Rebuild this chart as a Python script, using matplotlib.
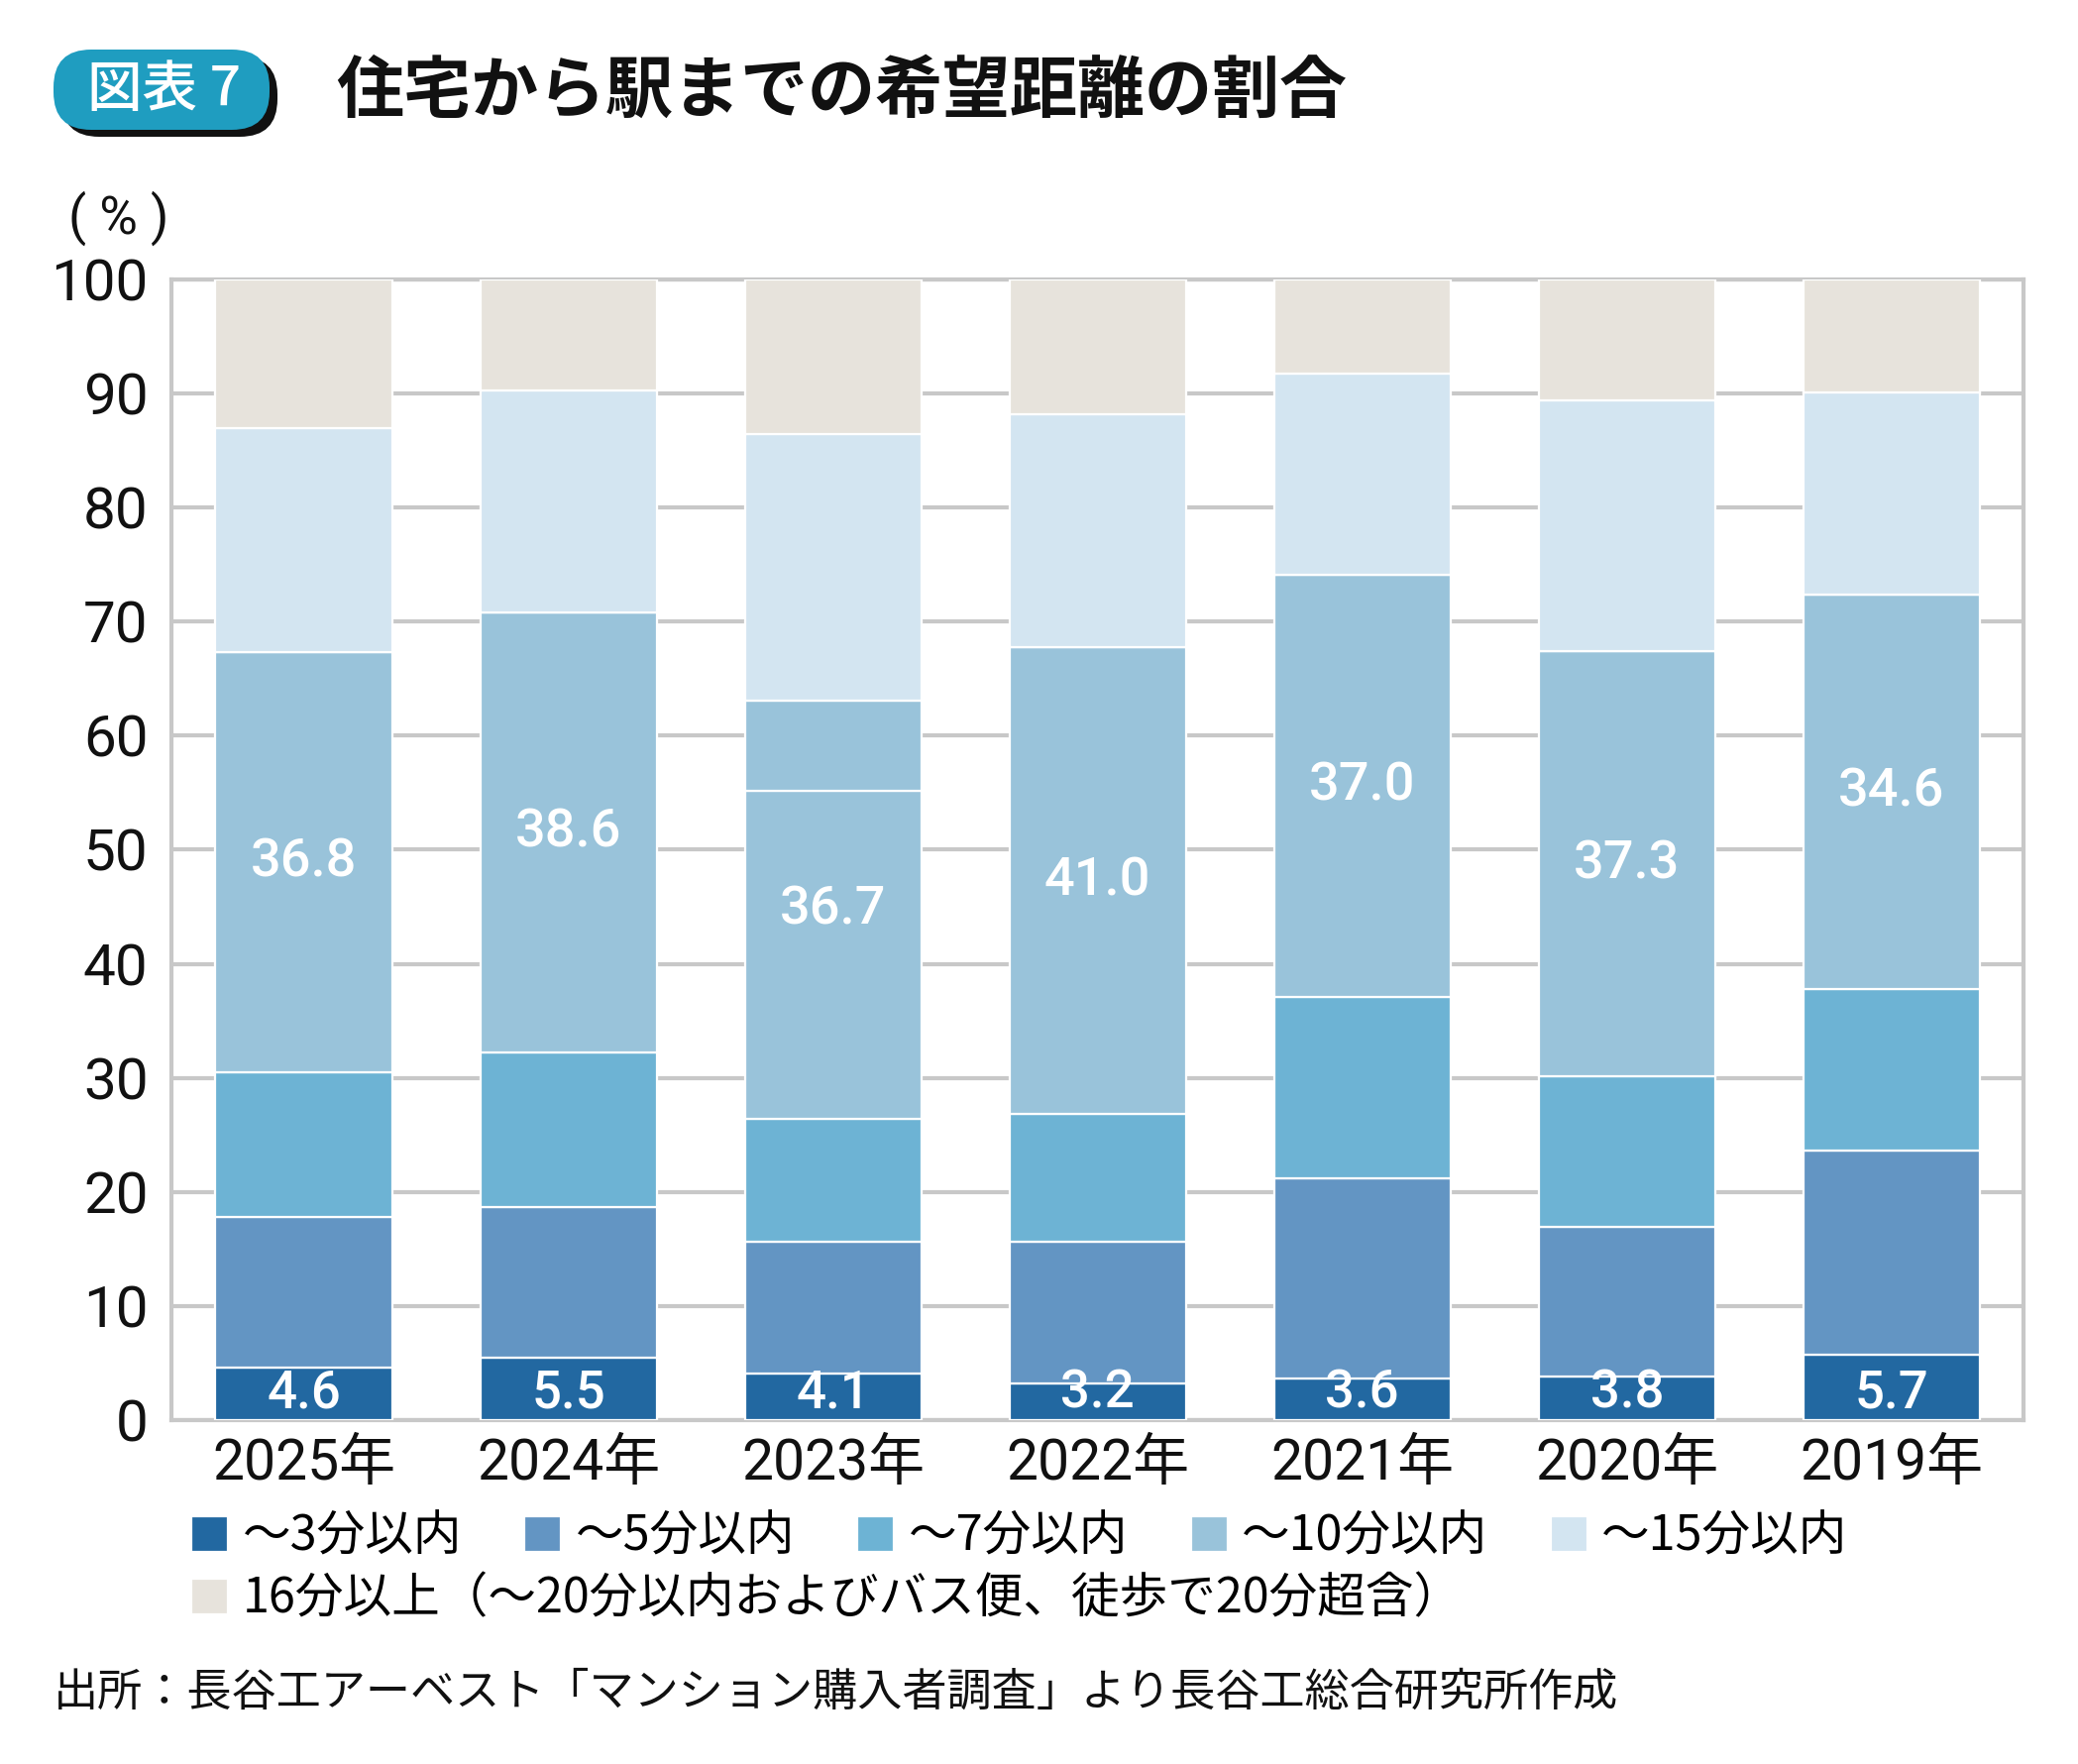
import matplotlib
matplotlib.use("Agg")
import matplotlib.pyplot as plt
from matplotlib.patches import FancyBboxPatch
import numpy as np

plt.rcParams['font.family'] = ['Noto Sans CJK JP', 'DejaVu Sans']

years = ['2025年', '2024年', '2023年', '2022年', '2021年', '2020年', '2019年']
min3 = [4.6, 5.5, 4.1, 3.2, 3.6, 3.8, 5.7]
min5 = [13.2, 13.2, 11.5, 12.4, 17.6, 13.1, 17.9]
min7 = [12.7, 13.5, 10.8, 11.2, 15.9, 13.2, 14.2]
min10 = [36.8, 38.6, 36.7, 41.0, 37.0, 37.3, 34.6]
# 2023年は~10分以内のブロックが2段に分かれている(上段の分)
min10_upper = [0, 0, 7.9, 0, 0, 0, 0]
min15 = [19.7, 19.5, 23.3, 20.4, 17.6, 22.0, 17.7]
over16 = [13.0, 9.7, 13.6, 11.8, 8.3, 10.6, 9.9]

labels = ['～3分以内', '～5分以内', '～7分以内', '～10分以内', '～15分以内',
          '16分以上（～20分以内およびバス便、徒歩で20分超含）']
colors = ['#2268a1', '#6395c3', '#6db3d4', '#99c3da', '#d3e5f1', '#e7e3dc']

fig = plt.figure(figsize=(20.97, 17.80), dpi=100)
ax = fig.add_axes([0.0825, 0.195, 0.8915, 0.6466])

x = np.arange(len(years))
w = 0.667
num = ['Roboto', 'Noto Sans CJK JP']

min10_lower = [a - b for a, b in zip(min10, min10_upper)]
segs = [min3, min5, min7, min10_lower, min10_upper, min15, over16]
seg_colors = [colors[0], colors[1], colors[2], colors[3], colors[3], colors[4], colors[5]]

bottom = np.zeros(len(years))
conts = []
for vals, c in zip(segs, seg_colors):
    b = ax.bar(x, vals, w, bottom=bottom, color=c, edgecolor='white', linewidth=1.6, zorder=3)
    conts.append(b)
    bottom += np.array(vals)

# 数値ラベル
base10 = np.array(min3) + np.array(min5) + np.array(min7)
for i in range(len(years)):
    ax.text(x[i], 2.3, f'{min3[i]:.1f}', ha='center', va='center', color='white',
            fontsize=38, family=num, fontweight='medium', zorder=5)
    ax.text(x[i], base10[i] + min10[i] / 2, f'{min10[i]:.1f}', ha='center', va='center',
            color='white', fontsize=39, family=num, fontweight='medium', zorder=5)

ax.set_xlim(-0.5, 6.5)
ax.set_ylim(0, 100)
ax.set_yticks(range(0, 101, 10))
ax.set_xticks(x)
ax.set_xticklabels(years, family=num, fontsize=41)
for t in ax.get_yticklabels():
    t.set_family(num)
    t.set_fontsize(42)
ax.tick_params(axis='both', length=0, colors='#111111')
ax.tick_params(axis='y', pad=17)
ax.tick_params(axis='x', pad=12)
ax.grid(axis='y', color='#c8c8c8', linewidth=3, zorder=0)
ax.set_axisbelow(True)
for s in ax.spines.values():
    s.set_color('#c8c8c8')
    s.set_linewidth(3)

fig.text(120 / 2097, 1 - 220 / 1780, '( % )', ha='center', va='center', fontsize=38,
         family=num, color='#111111')

# 凡例
handles = [conts[0], conts[1], conts[2], conts[3], conts[5]]
fig.legend(handles, labels[:5], loc='center left', bbox_to_anchor=(193 / 2097, 1 - 1551 / 1780),
           ncol=5, frameon=False, fontsize=35, handlelength=0.76, handleheight=0.76,
           handletextpad=0.3, columnspacing=1.3, borderpad=0, borderaxespad=0)
fig.legend([conts[6]], labels[5:], loc='center left', bbox_to_anchor=(193 / 2097, 1 - 1614 / 1780),
           frameon=False, fontsize=35, handlelength=0.76, handleheight=0.76,
           handletextpad=0.3, borderpad=0, borderaxespad=0)

# タイトル
tr = fig.dpi_scale_trans
shadow = FancyBboxPatch((0.62, 16.42), 2.18, 0.81, boxstyle='round,pad=0,rounding_size=0.38',
                        transform=tr, facecolor='#111111', edgecolor='none')
badge = FancyBboxPatch((0.54, 16.49), 2.18, 0.81, boxstyle='round,pad=0,rounding_size=0.38',
                       transform=tr, facecolor='#1f9dc0', edgecolor='none')
fig.add_artist(shadow)
fig.add_artist(badge)
fig.text(1.66, 16.89, '図表 7', transform=tr, ha='center', va='center', color='white',
         fontsize=40, fontweight='medium')
fig.text(3.39, 16.87, '住宅から駅までの希望距離の割合', transform=tr, ha='left', va='center',
         fontsize=49, fontweight='bold', color='#111111')

fig.text(54 / 2097, 1 - 1708 / 1780, '出所：長谷工アーベスト「マンション購入者調査」より長谷工総合研究所作成',
         ha='left', va='center', fontsize=32.5, color='#111111')

fig.savefig('out.png', dpi=100)
